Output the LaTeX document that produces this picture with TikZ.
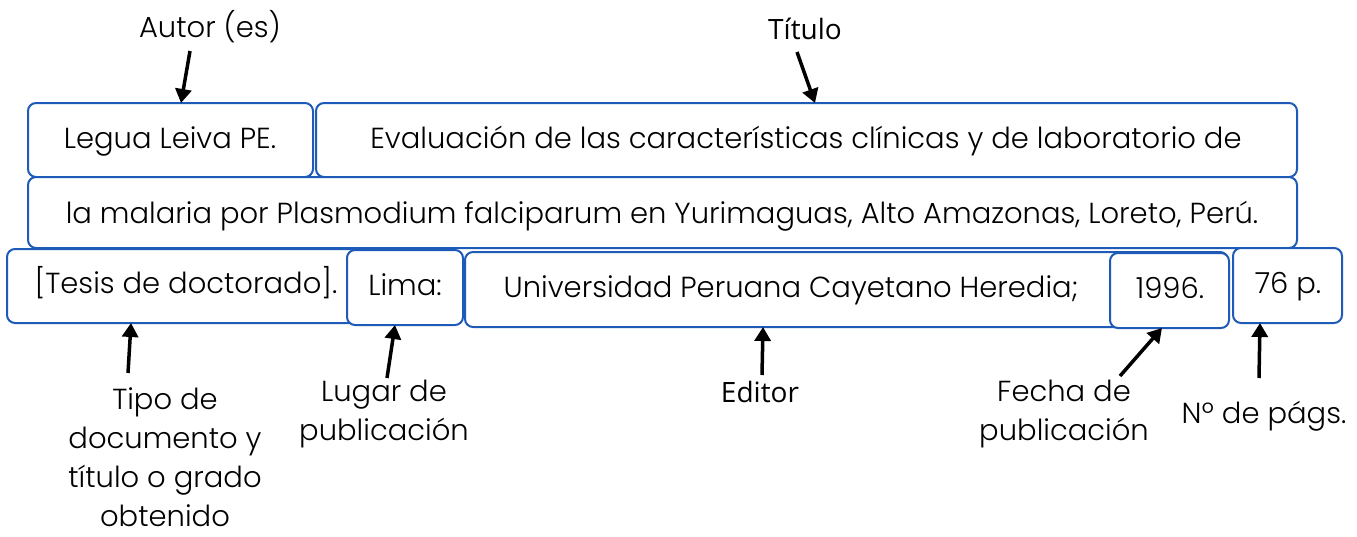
\documentclass[tikz,border=0pt]{standalone}
\usepackage{fontspec}
\setmainfont{Poppins}[UprightFont=* Light]
\newfontfamily\segoe{Open Sans}
\usetikzlibrary{arrows.meta,calc}
\definecolor{boxblue}{HTML}{1E5BB8}
\begin{document}
\begin{tikzpicture}[x=1pt,y=-1pt,
  rbox/.style={draw=boxblue,line width=2pt,rounded corners=8pt,fill=white,inner sep=0pt,outer sep=0pt},
  txt/.style={font=\fontsize{29}{34}\selectfont,inner sep=0pt,anchor=base},
  lbl/.style={font=\fontsize{29}{39}\selectfont,align=center,inner sep=0pt,anchor=base},
  slbl/.style={font=\segoe\fontsize{28}{40}\selectfont,inner sep=0pt,anchor=base},
  arr/.style={line width=3.5pt,-{Triangle[length=14pt,width=16pt]}}]
\useasboundingbox (0,0) rectangle (1357,536);
% boxes
\node[rbox,minimum width=285pt,minimum height=74pt] (legua) at (170.5,140) {};
\node[rbox,minimum width=981pt,minimum height=74pt] (evalua) at (806.5,140) {};
\node[rbox,minimum width=1269pt,minimum height=71pt] (row2) at (662.5,212.5) {};
\node[rbox,minimum width=355pt,minimum height=74pt] (tesis) at (184.5,286) {};
\node[rbox,minimum width=116pt,minimum height=75pt] (lima) at (405,287.5) {};
\node[rbox,minimum width=763pt,minimum height=75pt] (univ) at (846.5,289.5) {};
\node[rbox,minimum width=119pt,minimum height=75pt] (anio) at (1169.5,290.5) {};
\node[rbox,minimum width=109pt,minimum height=75pt] (pags) at (1287.5,285.5) {};
% texts
\node[txt] (tlegua) at (170,148) {Legua Leiva PE.};
\node[txt] (teval) at (806,148) {Evaluación de las características clínicas y de laboratorio de};
\node[txt] (trow2) at (662,223) {la malaria por Plasmodium falciparum en Yurimaguas, Alto Amazonas, Loreto, Perú.};
\node[txt] (ttesis) at (186,293) {[Tesis de doctorado].};
\node[txt] (tlima) at (405,295) {Lima:};
\node[txt] (tuniv) at (791,297) {Universidad Peruana Cayetano Heredia;};
\node[txt] (tanio) at (1170,298) {1996.};
\node[txt] (tpags) at (1288,293) {76 p.};
% labels
\node[lbl] (lautor) at (210,37) {Autor (es)};
\node[slbl] (ltitulo) at (805,39) {Título};
\node[lbl] (ltipo) at (165,526) {Tipo de\\documento y\\título o grado\\obtenido};
\node[lbl] (llugar) at (384,440) {Lugar de\\publicación};
\node[slbl] (leditor) at (760,402) {Editor};
\node[lbl] (lfecha) at (1064,440) {Fecha de\\publicación};
\node[lbl] (lpags) at (1264,423) {Nº de págs.};
% arrow tails
\coordinate (cautor) at (190,51);
\coordinate (ctitulo) at (797,52);
\coordinate (ctesis) at (128,373);
\coordinate (clima) at (387,378);
\coordinate (ceditor) at (762,375);
\coordinate (canio) at (1120,376);
\coordinate (cpags) at (1259,378);
% arrows
\draw[arr] (cautor) -- ($(legua.north west)+(153,0)$);
\draw[arr] (ctitulo) -- ($(evalua.north west)+(499,0)$);
\draw[arr] (ctesis) -- ($(tesis.south west)+(124,0)$);
\draw[arr] (clima) -- ($(lima.south west)+(48,0)$);
\draw[arr] (ceditor) -- ($(univ.south west)+(298,0)$);
\draw[arr] (canio) -- ($(anio.south west)+(52,0)$);
\draw[arr] (cpags) -- ($(pags.south west)+(27,0)$);
\end{tikzpicture}
\end{document}
